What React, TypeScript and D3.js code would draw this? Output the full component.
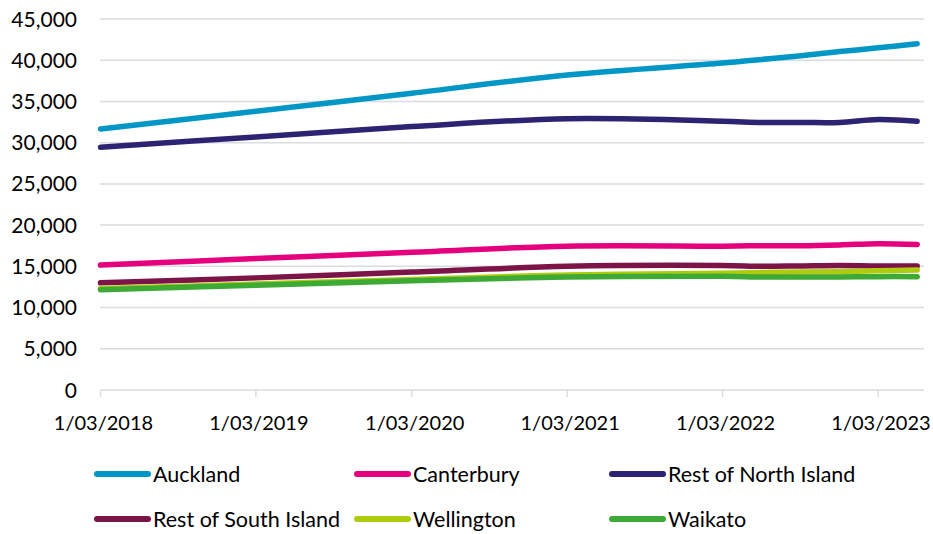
import React from "react";
import * as d3 from "d3";

// Reporting dates: annual to March 2022, then quarterly
const dates = [
  "2018-03-01", "2019-03-01", "2020-03-01", "2021-03-01", "2022-03-01",
  "2022-06-01", "2022-09-01", "2022-12-01", "2023-03-01", "2023-06-01",
];

const auckland = [31650, 33800, 36000, 38200, 39650, 40100, 40550, 41050, 41500, 42000];
const canterbury = [15150, 15950, 16700, 17450, 17450, 17500, 17500, 17600, 17750, 17650];
const restNorth = [29450, 30700, 31950, 32900, 32600, 32450, 32450, 32450, 32800, 32600];
const restSouth = [13000, 13600, 14300, 15000, 15100, 15000, 15050, 15100, 15050, 15050];
const wellington = [12300, 12850, 13400, 13950, 14150, 14250, 14300, 14350, 14450, 14550];
const waikato = [12170, 12700, 13250, 13700, 13800, 13700, 13700, 13700, 13750, 13750];

const seriesNames = ["Auckland", "Canterbury", "Rest of North Island", "Rest of South Island", "Wellington", "Waikato"];
const seriesValues = [auckland, canterbury, restNorth, restSouth, wellington, waikato];
const seriesColors = ["#0096C6", "#E5007D", "#2D2373", "#7C1447", "#AFCB0F", "#3DAA35"];

const yTicks = [0, 5000, 10000, 15000, 20000, 25000, 30000, 35000, 40000, 45000];
const xTickDates = ["2018-03-01", "2019-03-01", "2020-03-01", "2021-03-01", "2022-03-01", "2023-03-01"];

const W = 933;
const H = 534;
const FONT = "Lato, 'Open Sans', sans-serif";

export default function App() {
  const parse = d3.utcParse("%Y-%m-%d");
  const x = d3
    .scaleUtc()
    .domain([parse("2018-03-01")!, parse("2023-03-01")!])
    .range([100.5, 878]);
  const y = d3.scaleLinear().domain([0, 45000]).range([390, 19]);
  const plotLeft = 100;
  const plotRight = 924;
  const fmtY = d3.format(",");
  const fmtX = (d: Date) => `${d.getUTCDate()}/${d3.utcFormat("%m/%Y")(d)}`;

  const line = d3
    .line<[Date, number]>()
    .x((d) => x(d[0]))
    .y((d) => y(d[1]))
    .curve(d3.curveCatmullRom.alpha(0.5));

  const legendCols = [95, 355, 610];
  const legendRows = [474, 519];

  return (
    <svg
      width={W}
      height={H}
      viewBox={`0 0 ${W} ${H}`}
      style={{ position: "absolute", left: 0, top: 0, background: "#fff" }}
      fontFamily={FONT}
    >
      {/* horizontal gridlines */}
      {yTicks.map((t) => (
        <line
          key={`g${t}`}
          x1={plotLeft}
          x2={plotRight}
          y1={y(t)}
          y2={y(t)}
          stroke="#D9DCE0"
          strokeWidth={1.5}
        />
      ))}
      {/* y labels */}
      {yTicks.map((t) => (
        <text
          key={`yl${t}`}
          x={77}
          y={y(t)}
          dy="0.36em"
          textAnchor="end"
          fontSize={21}
          fill="#000"
        >
          {fmtY(t)}
        </text>
      ))}
      {/* x tick marks and labels */}
      {xTickDates.map((s) => {
        const d = parse(s)!;
        const px = x(d);
        return (
          <g key={`x${s}`}>
            <line x1={px} x2={px} y1={390} y2={397} stroke="#D9DCE0" strokeWidth={1.5} />
            <text x={px + 3} y={430} textAnchor="middle" fontSize={20} fill="#000">
              {fmtX(d)}
            </text>
          </g>
        );
      })}
      {/* series lines */}
      {seriesValues.map((vals, i) => {
        const pts = vals.map((v, j) => [parse(dates[j])!, v] as [Date, number]);
        return (
          <path
            key={seriesNames[i]}
            d={line(pts) || ""}
            fill="none"
            stroke={seriesColors[i]}
            strokeWidth={5.5}
            strokeLinecap="round"
            strokeLinejoin="round"
          />
        );
      })}
      {/* legend */}
      {seriesNames.map((name, i) => {
        const cx = legendCols[i % 3];
        const cy = legendRows[Math.floor(i / 3)];
        return (
          <g key={`lg${name}`}>
            <line
              x1={cx + 2}
              x2={cx + 53}
              y1={cy}
              y2={cy}
              stroke={seriesColors[i]}
              strokeWidth={6}
              strokeLinecap="round"
            />
            <text x={cx + 58} y={cy} dy="0.36em" fontSize={21.5} fill="#000">
              {name}
            </text>
          </g>
        );
      })}
    </svg>
  );
}
